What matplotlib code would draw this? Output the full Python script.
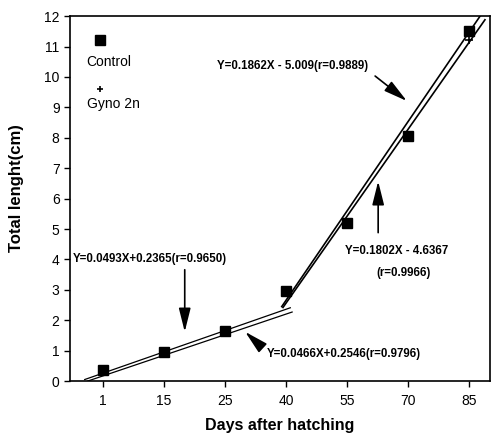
import matplotlib
matplotlib.use("Agg")
import matplotlib.pyplot as plt

plt.rcParams["font.family"] = ["Liberation Sans", "DejaVu Sans"]

# data
days = ["1", "15", "25", "40", "55", "70", "85"]
control = [0.35, 0.95, 1.65, 2.95, 5.2, 8.05, 11.5]
gyno = [0.33, 0.95, 1.65, 2.95, 5.2, 8.0, 11.2]

# fitted lines (ends, on day-index axis)
early_ctrl_x = [-0.3, 3.07]
early_ctrl_y = [0.05, 2.41]
early_gyno_x = [-0.25, 3.1]
early_gyno_y = [0.0, 2.27]
late_ctrl_x = [2.93, 6.18]
late_ctrl_y = [2.45, 12.0]
late_gyno_x = [2.95, 6.26]
late_gyno_y = [2.42, 11.88]

fig = plt.figure(figsize=(4.98, 4.36), dpi=100)
ax = fig.add_axes([0.1406, 0.126, 0.843, 0.837])

idx = list(range(len(days)))

# fit lines
ax.plot(early_ctrl_x, early_ctrl_y, color="black", lw=0.9)
ax.plot(early_gyno_x, early_gyno_y, color="black", lw=0.9)
ax.plot(late_ctrl_x, late_ctrl_y, color="black", lw=1.2)
ax.plot(late_gyno_x, late_gyno_y, color="black", lw=1.2)

# points
ax.plot(idx, gyno, linestyle="none", marker="+", color="black", ms=6, mew=1.2)
ax.plot(idx, control, linestyle="none", marker="s", color="black", ms=6.5)

# legend (hand placed)
ax.plot([-0.05], [11.22], marker="s", color="black", ms=6.5)
ax.text(-0.27, 10.5, "Control", fontsize=10, va="center", ha="left")
ax.plot([-0.05], [9.6], marker="+", color="black", ms=5, mew=1.2)
ax.text(-0.26, 9.1, "Gyno 2n", fontsize=10, va="center", ha="left")

# equations
eq = dict(fontsize=8.3, fontweight="bold", va="center")
ax.text(3.1, 10.36, "Y=0.1862X - 5.009(r=0.9889)", ha="center", **eq)
ax.text(3.97, 4.29, "Y=0.1802X - 4.6367", ha="left", **eq)
ax.text(4.92, 3.56, "(r=0.9966)", ha="center", **eq)
ax.text(-0.49, 4.03, "Y=0.0493X+0.2365(r=0.9650)", ha="left", **eq)
ax.text(2.69, 0.89, "Y=0.0466X+0.2546(r=0.9796)", ha="left", **eq)

arrow = dict(arrowstyle="-|>,head_length=1.2,head_width=0.3",
             color="black", lw=1.2, shrinkA=0, shrinkB=0, mutation_scale=12)
ax.annotate("", xy=(4.98, 9.21), xytext=(4.46, 10.03), arrowprops=arrow)
ax.annotate("", xy=(4.51, 6.57), xytext=(4.51, 4.88), arrowprops=arrow)
ax.annotate("", xy=(1.34, 1.62), xytext=(1.34, 3.66), arrowprops=arrow)
ax.annotate("", xy=(2.33, 1.62), xytext=(2.6, 1.12), arrowprops=arrow)

ax.set_xlim(-0.54, 6.34)
ax.set_ylim(0, 12)
ax.set_xticks(idx)
ax.set_xticklabels(days)
ax.set_yticks(range(0, 13))
ax.tick_params(axis="both", labelsize=10, length=4, width=1, color="black")
ax.tick_params(axis="x", pad=5)
for s in ax.spines.values():
    s.set_linewidth(1.2)

ax.set_xlabel("Days after hatching", fontsize=11.5, fontweight="bold",
              va="center")
ax.xaxis.set_label_coords(0.5, -0.122)
ax.set_ylabel("Total lenght(cm)", fontsize=12, fontweight="bold")
ax.yaxis.set_label_coords(-0.11, 0.53)

fig.savefig("out.png", dpi=100)
